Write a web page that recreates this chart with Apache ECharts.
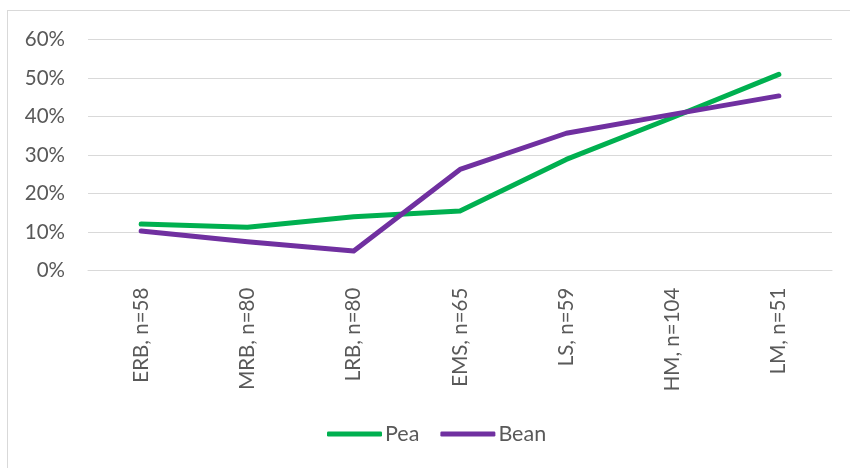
<!DOCTYPE html>
<html>
<head>
<meta charset="utf-8">
<script src="https://cdn.jsdelivr.net/npm/echarts@6/dist/echarts.min.js"></script>
<style>
  html, body { margin: 0; padding: 0; background: #fff; }
  #frame { position: absolute; left: 7px; top: 10px; width: 900px; height: 500px; border: 1px solid #d9d9d9; box-sizing: border-box; }
  #chart { position: absolute; left: 0; top: 0; width: 850px; height: 468px; }
</style>
</head>
<body>
<div id="frame"></div>
<div id="chart"></div>
<script>
// Stage categories with sample sizes
const categories = ['ERB, n=58', 'MRB, n=80', 'LRB, n=80', 'EMS, n=65', 'LS, n=59', 'HM, n=104', 'LM, n=51'];
// Share per stage, in percent
const pea = [12.1, 11.3, 14.0, 15.5, 28.9, 39.8, 51.0];
const bean = [10.3, 7.5, 5.1, 26.3, 35.7, 40.6, 45.4];
const seriesNames = ['Pea', 'Bean'];
const seriesColors = ['#00B050', '#7030A0'];

const fontFamily = 'Lato, "Open Sans", sans-serif';
const textColor = '#595959';

const chart = echarts.init(document.getElementById('chart'), null, { renderer: 'canvas' });

function lineSeries(name, data, color) {
  return {
    name: name,
    type: 'line',
    data: data,
    symbol: 'none',
    showSymbol: false,
    smooth: false,
    lineStyle: { color: color, width: 5, cap: 'round', join: 'round' },
    itemStyle: { color: color },
    emphasis: { disabled: true },
    animation: false
  };
}

chart.setOption({
  animation: false,
  grid: { left: 88, right: 18, top: 39.7, bottom: 197.3, containLabel: false },
  xAxis: {
    type: 'category',
    data: categories,
    boundaryGap: true,
    axisLine: { show: true, lineStyle: { color: '#d9d9d9', width: 1 } },
    axisTick: { show: false },
    axisLabel: {
      rotate: 90,
      margin: 17,
      color: textColor,
      fontFamily: fontFamily,
      fontSize: 20.5
    }
  },
  yAxis: {
    type: 'value',
    min: 0,
    max: 60,
    interval: 10,
    axisLine: { show: false },
    axisTick: { show: false },
    splitLine: { show: true, lineStyle: { color: '#d9d9d9', width: 1 } },
    axisLabel: {
      margin: 23,
      color: textColor,
      fontFamily: fontFamily,
      fontSize: 20.5,
      formatter: v => v + '%'
    }
  },
  legend: {
    data: seriesNames.map(n => ({ name: n, icon: 'roundRect' })),
    bottom: 18,
    left: 322,
    itemWidth: 55,
    itemHeight: 5,
    itemGap: 21,
    textStyle: { color: textColor, fontFamily: fontFamily, fontSize: 21.5, padding: [0, 0, 0, -2] }
  },
  series: [
    lineSeries(seriesNames[0], pea, seriesColors[0]),
    lineSeries(seriesNames[1], bean, seriesColors[1])
  ]
});
</script>
</body>
</html>
